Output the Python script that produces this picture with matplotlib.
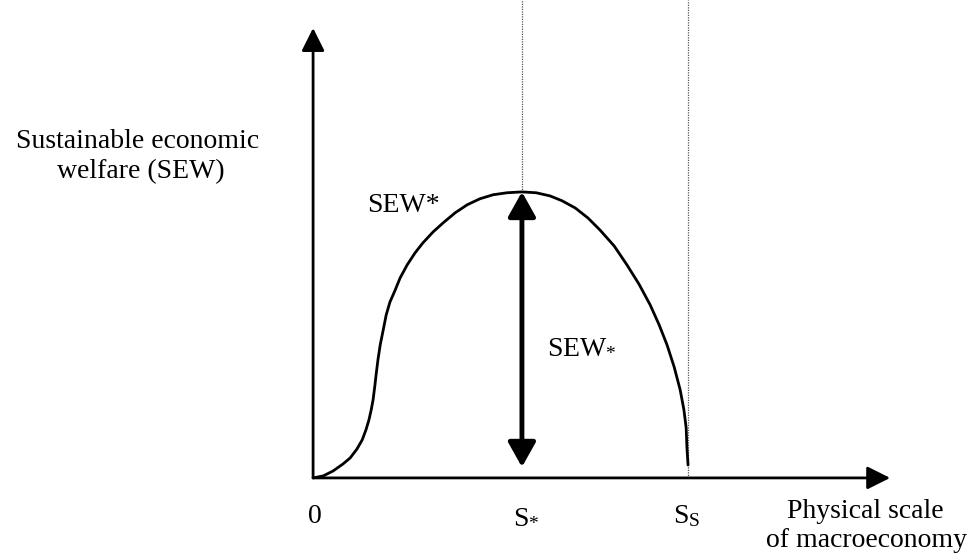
import matplotlib.pyplot as plt

plt.rcParams['font.family'] = ['Liberation Serif', 'DejaVu Serif']
plt.rcParams['mathtext.fontset'] = 'custom'
plt.rcParams['mathtext.rm'] = 'Liberation Serif'
plt.rcParams['mathtext.it'] = 'Liberation Serif:italic'

# scale of the macroeconomy (S_s = 1) and welfare (SEW* = 1)
scale = [0.0, 0.027, 0.053, 0.080, 0.099, 0.117, 0.131, 0.141, 0.149, 0.155,
         0.160, 0.165, 0.168, 0.173, 0.179, 0.187, 0.195, 0.205, 0.219, 0.232,
         0.251, 0.272, 0.293, 0.320, 0.347, 0.379, 0.411, 0.445, 0.480, 0.517,
         0.557, 0.595, 0.632, 0.664, 0.699, 0.733, 0.765, 0.803, 0.837, 0.869,
         0.899, 0.923, 0.944, 0.963, 0.979, 0.989, 0.995, 0.997, 1.0]
welfare = [0.0, 0.007, 0.024, 0.049, 0.070, 0.101, 0.133, 0.168, 0.203, 0.238,
           0.273, 0.325, 0.360, 0.413, 0.465, 0.517, 0.570, 0.615, 0.657, 0.699,
           0.745, 0.787, 0.822, 0.860, 0.892, 0.927, 0.955, 0.976, 0.990, 0.997,
           1.0, 0.997, 0.986, 0.969, 0.944, 0.909, 0.867, 0.811, 0.745, 0.678,
           0.605, 0.535, 0.465, 0.388, 0.308, 0.238, 0.175, 0.108, 0.045]

s_star = 0.557
s_s = 1.0
sew_max = 1.0
x_tip = 1.539
y_tip = 1.573

fig = plt.figure(figsize=(9.76, 5.58), dpi=100)
ax = fig.add_axes([0, 0, 1, 1])
ax.set_xlim(-0.835, 1.768)
ax.set_ylim(-0.280, 1.671)
ax.axis('off')

# axes with arrow heads
axis_arrow = dict(arrowstyle='-|>,head_length=0.7,head_width=0.35', lw=2,
                  color='black', mutation_scale=20, shrinkA=0, shrinkB=0)
ax.annotate('', xy=(0, y_tip), xytext=(0, 0), arrowprops=axis_arrow)
ax.annotate('', xy=(x_tip, 0), xytext=(0, 0), arrowprops=axis_arrow)

# dotted verticals
ax.plot([s_star, s_star], [sew_max, 1.671], color='#555555', lw=0.9,
        linestyle=(0, (1, 1)))
ax.plot([s_s, s_s], [0.0, 1.671], color='#555555', lw=0.9,
        linestyle=(0, (1, 1)))

# SEW curve
ax.plot(scale, welfare, color='black', lw=2, solid_capstyle='round',
        solid_joinstyle='round')

# double arrow at S*
ax.annotate('', xy=(s_star, sew_max), xytext=(s_star, 0.038),
            arrowprops=dict(arrowstyle='<|-|>,head_length=0.75,head_width=0.42',
                            lw=3.5, color='black', mutation_scale=20,
                            shrinkA=0, shrinkB=0))

fs = 20
ax.text(-0.467, 1.154, 'Sustainable economic', ha='center', va='baseline',
        fontsize=fs)
ax.text(-0.459, 1.049, 'welfare (SEW)', ha='center', va='baseline', fontsize=fs)
ax.text(0.144, 0.930, 'SEW*', ha='left', va='baseline', fontsize=fs)
ax.text(0.624, 0.437, r'SEW$_{*}$', ha='left', va='baseline', fontsize=fs)
ax.text(-0.013, -0.157, '0', ha='left', va='baseline', fontsize=fs)
ax.text(0.533, -0.157, r'S$_{*}$', ha='left', va='baseline', fontsize=fs)
ax.text(0.96, -0.157, r'S$_{\mathrm{S}}$', ha='left', va='baseline', fontsize=fs)
ax.text(1.472, -0.140, 'Physical scale', ha='center', va='baseline', fontsize=fs)
ax.text(1.475, -0.241, 'of macroeconomy', ha='center', va='baseline',
        fontsize=fs)

fig.savefig('out.png', dpi=100)
